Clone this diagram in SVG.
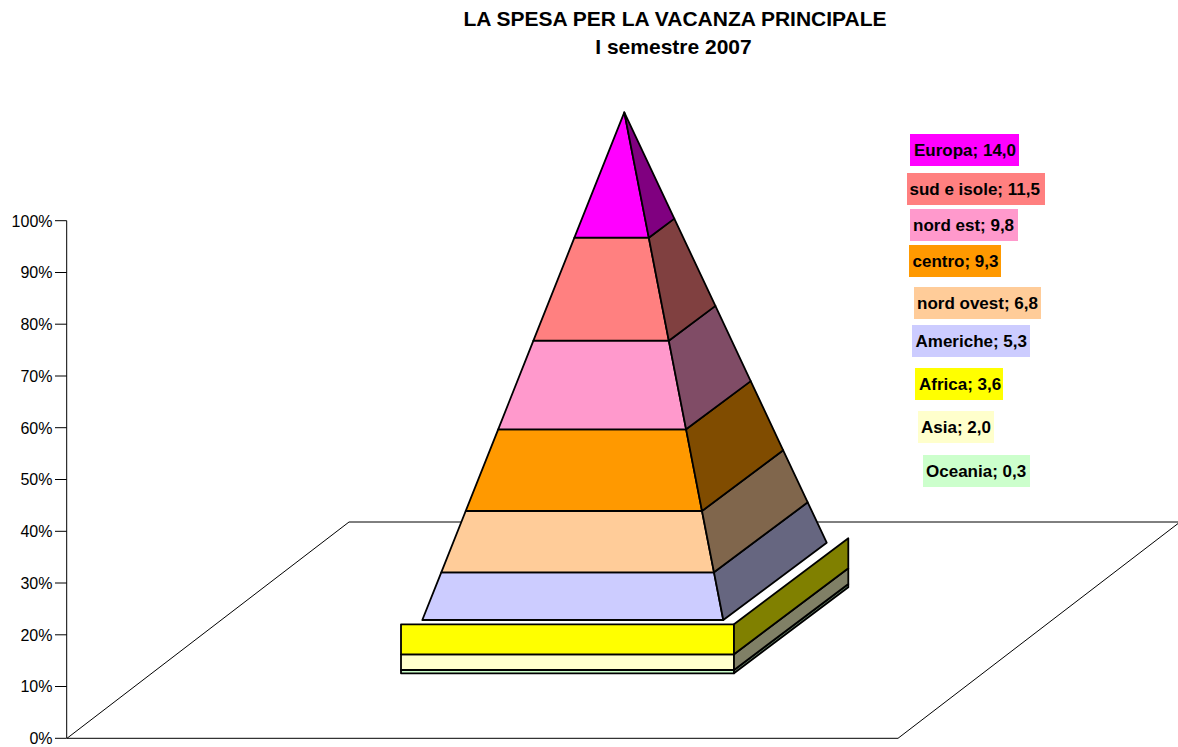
<svg xmlns="http://www.w3.org/2000/svg" width="1178" height="747" viewBox="0 0 1178 747">
<style>
.t{font-family:"Liberation Sans",Arial,sans-serif;font-weight:bold;fill:#000}
.ax{font-family:"Liberation Sans",Arial,sans-serif;font-size:16px;fill:#000;text-anchor:end}
.lbl{font-family:"Liberation Sans",Arial,sans-serif;font-weight:bold;font-size:17px;fill:#000}
.s{stroke:#000;stroke-width:1.8;stroke-linejoin:round}
.thin{stroke:#000;stroke-width:1;fill:none}
</style>
<rect width="1178" height="747" fill="#fff"/>
<g id="title">
<text class="t" x="675" y="26" font-size="21" text-anchor="middle">LA SPESA PER LA VACANZA PRINCIPALE</text>
<text class="t" x="673.5" y="53.5" font-size="21" text-anchor="middle">I semestre 2007</text>
</g>
<g id="floor">
<polygon class="thin" points="67,738.3 349,522 1180,522 898,738.3"/>
</g>
<g id="axis">
<line class="thin" x1="66.7" y1="220.7" x2="66.7" y2="738.3"/>
<g class="thin">
<line x1="55" y1="220.7" x2="66.7" y2="220.7"/>
<line x1="55" y1="272.5" x2="66.7" y2="272.5"/>
<line x1="55" y1="324.2" x2="66.7" y2="324.2"/>
<line x1="55" y1="376" x2="66.7" y2="376"/>
<line x1="55" y1="427.7" x2="66.7" y2="427.7"/>
<line x1="55" y1="479.5" x2="66.7" y2="479.5"/>
<line x1="55" y1="531.3" x2="66.7" y2="531.3"/>
<line x1="55" y1="583" x2="66.7" y2="583"/>
<line x1="55" y1="634.8" x2="66.7" y2="634.8"/>
<line x1="55" y1="686.5" x2="66.7" y2="686.5"/>
<line x1="55" y1="738.3" x2="66.7" y2="738.3"/>
</g>
<text class="ax" x="52.5" y="226.5">100%</text>
<text class="ax" x="52.5" y="278.3">90%</text>
<text class="ax" x="52.5" y="330">80%</text>
<text class="ax" x="52.5" y="381.8">70%</text>
<text class="ax" x="52.5" y="433.5">60%</text>
<text class="ax" x="52.5" y="485.3">50%</text>
<text class="ax" x="52.5" y="537.1">40%</text>
<text class="ax" x="52.5" y="588.8">30%</text>
<text class="ax" x="52.5" y="640.6">20%</text>
<text class="ax" x="52.5" y="692.3">10%</text>
<text class="ax" x="52.5" y="744.1">0%</text>
</g>
<g id="oceania">
<polygon class="s" fill="#CCFFCC" points="401,670 734,670 734,673.3 401,673.3"/>
<polygon class="s" fill="#668066" points="734,670 848.3,584 848.3,587.3 734,673.3"/>
</g>
<g id="asia">
<polygon class="s" fill="#FFFFCC" points="401,654.3 734,654.3 734,670 401,670"/>
<polygon class="s" fill="#808066" points="734,654.3 848.3,568.3 848.3,584 734,670"/>
</g>
<g id="africa">
<polygon class="s" fill="#FFFF00" points="401,624.3 734,624.3 734,654.3 401,654.3"/>
<polygon class="s" fill="#808000" points="734,624.3 848.3,538.3 848.3,568.3 734,654.3"/>
</g>
<g id="americhe">
<polygon class="s" fill="#CCCCFF" points="441.3,572.3 714,572.3 723.3,620 422.3,620"/>
<polygon class="s" fill="#666680" points="714,572.3 807.7,502.3 826.7,542.7 723.3,620"/>
</g>
<g id="nord-ovest">
<polygon class="s" fill="#FFCC99" points="465.7,511 702,511 714,572.3 441.3,572.3"/>
<polygon class="s" fill="#80664C" points="702,511 783.2,450.3 807.7,502.3 714,572.3"/>
</g>
<g id="centro">
<polygon class="s" fill="#FF9900" points="498.2,429.3 686.1,429.3 702,511 465.7,511"/>
<polygon class="s" fill="#804C00" points="686.1,429.3 750.7,381.1 783.2,450.3 702,511"/>
</g>
<g id="nord-est">
<polygon class="s" fill="#FF99CC" points="533.4,340.7 668.8,340.7 686.1,429.3 498.2,429.3"/>
<polygon class="s" fill="#804C66" points="668.8,340.7 715.4,305.9 750.7,381.1 686.1,429.3"/>
</g>
<g id="sud-e-isole">
<polygon class="s" fill="#FF8080" points="574.4,237.7 648.8,237.7 668.8,340.7 533.4,340.7"/>
<polygon class="s" fill="#804040" points="648.8,237.7 674.3,218.6 715.4,305.9 668.8,340.7"/>
</g>
<g id="europa">
<polygon class="s" fill="#FF00FF" points="624.3,112.3 648.8,237.7 574.4,237.7"/>
<polygon class="s" fill="#800080" points="624.3,112.3 674.3,218.6 648.8,237.7"/>
</g>
<g id="labels">
<rect x="910" y="134" width="109" height="32" fill="#FF00FF"/>
<text class="lbl" x="914" y="155.5">Europa; 14,0</text>
<rect x="907" y="173" width="138" height="32" fill="#FF8080"/>
<text class="lbl" x="909.5" y="194.5">sud e isole; 11,5</text>
<rect x="910" y="209" width="108" height="32" fill="#FF99CC"/>
<text class="lbl" x="913" y="230.5">nord est; 9,8</text>
<rect x="909" y="245" width="92" height="32" fill="#FF9900"/>
<text class="lbl" x="912.5" y="266.5">centro; 9,3</text>
<rect x="914" y="287" width="127" height="32" fill="#FFCC99"/>
<text class="lbl" x="917" y="308.5">nord ovest; 6,8</text>
<rect x="912" y="325" width="118" height="32" fill="#CCCCFF"/>
<text class="lbl" x="915.5" y="346.5">Americhe; 5,3</text>
<rect x="915" y="368" width="88" height="32" fill="#FFFF00"/>
<text class="lbl" x="919" y="389.5">Africa; 3,6</text>
<rect x="918" y="411" width="76" height="32" fill="#FFFFCC"/>
<text class="lbl" x="921" y="432.5">Asia; 2,0</text>
<rect x="923" y="455" width="107" height="32" fill="#CCFFCC"/>
<text class="lbl" x="926" y="476.5">Oceania; 0,3</text>
</g>
</svg>
